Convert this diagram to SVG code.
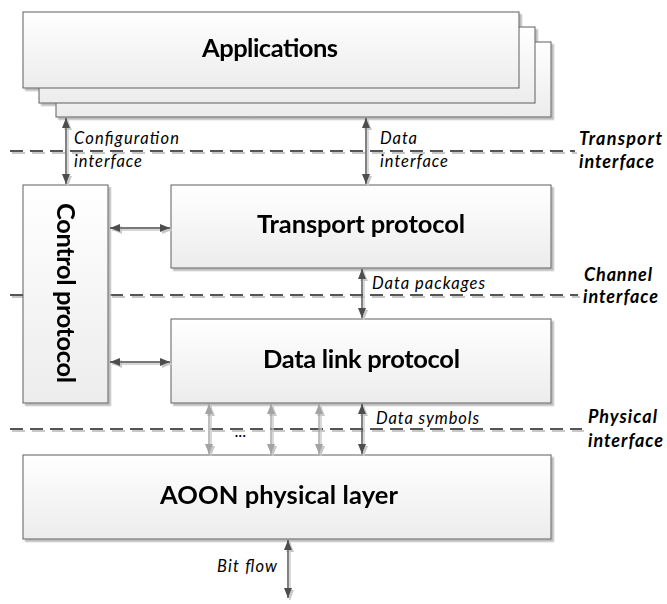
<svg xmlns="http://www.w3.org/2000/svg" width="667" height="604" viewBox="0 0 667 604">
<style>
.box{stroke:#5f5f5f;stroke-width:1;fill:url(#g)}
.title{font-family:Lato,"Open Sans",sans-serif;font-weight:bold;font-size:25.5px;fill:#000;text-anchor:middle}
.lab{font-family:Lato,"Open Sans",sans-serif;font-style:italic;font-size:16.5px;fill:#000}
.ifc{font-family:Lato,"Open Sans",sans-serif;font-style:italic;font-weight:bold;font-size:18px;fill:#000}
.dash{stroke:#555;stroke-width:2;stroke-dasharray:13 7;fill:none}
.arr{stroke:#4d4d4d;stroke-width:1.4;fill:none;marker-start:url(#ah);marker-end:url(#ah)}
.arrg{stroke:#a3a3a3;stroke-width:1.4;fill:none;marker-start:url(#ahg);marker-end:url(#ahg)}
</style>
<defs>
<linearGradient id="g" x1="0" y1="0" x2="0" y2="1">
<stop offset="0" stop-color="#ffffff"/>
<stop offset="1" stop-color="#ececec"/>
</linearGradient>
<filter id="sh" filterUnits="userSpaceOnUse" x="0" y="0" width="667" height="604">
<feDropShadow dx="2.5" dy="2.5" stdDeviation="0.5" flood-color="#bdbdbd" flood-opacity="1"/>
</filter>
<filter id="shl" filterUnits="userSpaceOnUse" x="0" y="0" width="667" height="604">
<feDropShadow dx="2" dy="2" stdDeviation="0.3" flood-color="#c8c8c8" flood-opacity="1"/>
</filter>
<marker id="ah" markerUnits="userSpaceOnUse" markerWidth="10" markerHeight="10" viewBox="0 0 10 10" refX="10" refY="5" orient="auto-start-reverse">
<path d="M0,1 L10,5 L0,9 Z" fill="#4d4d4d"/>
</marker>
<marker id="ahg" markerUnits="userSpaceOnUse" markerWidth="10" markerHeight="10" viewBox="0 0 10 10" refX="10" refY="5" orient="auto-start-reverse">
<path d="M0,1 L10,5 L0,9 Z" fill="#a3a3a3"/>
</marker>
</defs>
<rect width="667" height="604" fill="#fff"/>

<g id="interfaces" filter="url(#shl)">
<line class="dash" x1="10" y1="151" x2="575" y2="151"/>
<line class="dash" x1="10" y1="295" x2="578" y2="295"/>
<line class="dash" x1="10" y1="429" x2="582" y2="429"/>
</g>

<g id="applications" filter="url(#sh)">
<rect class="box" x="56" y="42" width="495" height="75"/>
<rect class="box" x="39" y="27" width="496" height="76"/>
<rect class="box" x="23" y="12" width="496" height="76"/>
<text class="title" x="270" y="57" textLength="136">Applications</text>
</g>

<g id="control" filter="url(#sh)">
<rect class="box" x="23" y="185" width="85" height="218"/>
<text class="title" transform="translate(57,293) rotate(90)" x="0" y="0" textLength="180">Control protocol</text>
</g>

<g id="transport" filter="url(#sh)">
<rect class="box" x="171" y="185" width="380" height="83"/>
<text class="title" x="361" y="233" textLength="208">Transport protocol</text>
</g>

<g id="datalink" filter="url(#sh)">
<rect class="box" x="171" y="319" width="380" height="84"/>
<text class="title" x="361.5" y="368" textLength="197">Data link protocol</text>
</g>

<g id="physical" filter="url(#sh)">
<rect class="box" x="23" y="455" width="528" height="84"/>
<text class="title" x="279" y="504" textLength="238">AOON physical layer</text>
</g>

<g id="connectors" filter="url(#shl)">
<line class="arr" x1="66" y1="118" x2="66" y2="184"/>
<line class="arr" x1="366" y1="118" x2="366" y2="184"/>
<line class="arr" x1="110" y1="228" x2="170" y2="228"/>
<line class="arr" x1="110" y1="362" x2="170" y2="362"/>
<line class="arr" x1="362" y1="269" x2="362" y2="318"/>
<line class="arrg" x1="209" y1="404" x2="209" y2="454"/>
<line class="arrg" x1="271" y1="404" x2="271" y2="454"/>
<line class="arrg" x1="319" y1="404" x2="319" y2="454"/>
<line class="arr" x1="362" y1="404" x2="362" y2="454"/>
<line class="arr" x1="288" y1="540" x2="288" y2="598"/>
</g>

<g id="labels">
<text class="lab" x="74" y="144" textLength="105">Configuration</text>
<text class="lab" x="74" y="167" textLength="68">interface</text>
<text class="lab" x="380" y="144" textLength="37">Data</text>
<text class="lab" x="380" y="167" textLength="68">interface</text>
<text class="lab" x="372" y="289" textLength="113">Data packages</text>
<text class="lab" x="376" y="424" textLength="103">Data symbols</text>
<text class="lab" x="235" y="437">...</text>
<text class="lab" x="217" y="572" textLength="60">Bit flow</text>
<text class="ifc" x="579" y="145" textLength="83">Transport</text>
<text class="ifc" x="579" y="168" textLength="75">interface</text>
<text class="ifc" x="584" y="281" textLength="68">Channel</text>
<text class="ifc" x="583" y="303" textLength="75">interface</text>
<text class="ifc" x="588" y="423" textLength="69">Physical</text>
<text class="ifc" x="588" y="447" textLength="75">interface</text>
</g>
</svg>
